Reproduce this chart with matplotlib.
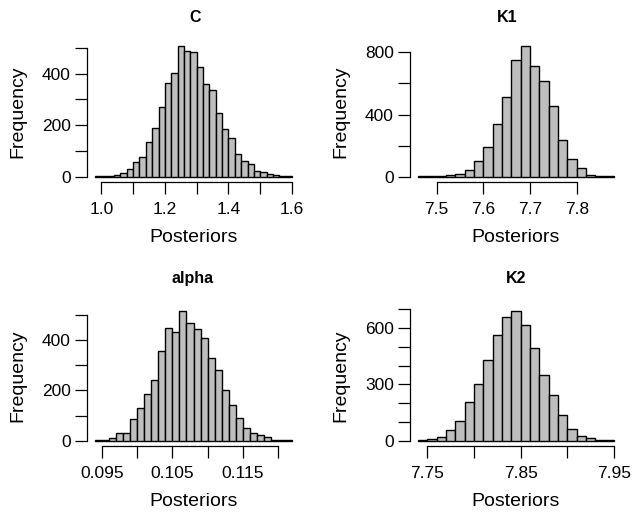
import matplotlib
matplotlib.use("Agg")
import matplotlib.pyplot as plt
import numpy as np
from matplotlib.ticker import FixedLocator, FixedFormatter

plt.rcParams['font.family'] = ['Liberation Sans', 'DejaVu Sans']

# histogram counts
names = ["C", "K1", "alpha", "K2"]

c_start, c_width = 0.98, 0.02
c_counts = [2, 2, 4, 8, 13, 29, 56, 78, 134, 190, 271, 365, 404, 506, 486, 482,
            425, 358, 335, 247, 184, 151, 90, 62, 48, 23, 19, 12, 5, 4, 2]

k1_start, k1_width = 7.46, 0.02
k1_counts = [2, 2, 4, 9, 15, 45, 99, 191, 338, 510, 748, 839, 710, 615, 454,
             234, 112, 56, 9, 6, 2]

alpha_start, alpha_width = 0.094, 0.001
alpha_counts = [3, 4, 13, 30, 33, 88, 131, 185, 243, 358, 449, 431, 515, 467,
                446, 409, 330, 280, 202, 141, 92, 50, 30, 24, 17, 5, 4, 3]

k2_start, k2_width = 7.74, 0.01
k2_counts = [4, 9, 18, 60, 103, 207, 301, 428, 561, 660, 690, 618, 492, 352,
             242, 135, 62, 25, 16, 5, 3]

# ticks and their labels (R drops some labels)
c_xticks = [1.0, 1.1, 1.2, 1.3, 1.4, 1.5, 1.6]
c_xlabels = ["1.0", "", "1.2", "", "1.4", "", "1.6"]
c_yticks = [0, 100, 200, 300, 400, 500]
c_ylabels = ["0", "", "200", "", "400", ""]

k1_xticks = [7.5, 7.6, 7.7, 7.8]
k1_xlabels = ["7.5", "7.6", "7.7", "7.8"]
k1_yticks = [0, 200, 400, 600, 800]
k1_ylabels = ["0", "", "400", "", "800"]

alpha_xticks = [0.095, 0.100, 0.105, 0.110, 0.115, 0.120]
alpha_xlabels = ["0.095", "", "0.105", "", "0.115", ""]
alpha_yticks = [0, 100, 200, 300, 400, 500]
alpha_ylabels = ["0", "", "200", "", "400", ""]

k2_xticks = [7.75, 7.80, 7.85, 7.90, 7.95]
k2_xlabels = ["7.75", "", "7.85", "", "7.95"]
k2_yticks = [0, 100, 200, 300, 400, 500, 600, 700]
k2_ylabels = ["0", "", "", "300", "", "", "600", ""]

panels = [
    (c_start, c_width, c_counts, c_xticks, c_xlabels, c_yticks, c_ylabels),
    (k1_start, k1_width, k1_counts, k1_xticks, k1_xlabels, k1_yticks, k1_ylabels),
    (alpha_start, alpha_width, alpha_counts, alpha_xticks, alpha_xlabels, alpha_yticks, alpha_ylabels),
    (k2_start, k2_width, k2_counts, k2_xticks, k2_xlabels, k2_yticks, k2_ylabels),
]

W, H = 636, 515
# axes boxes in pixels: left, top, right, bottom
boxes = [(87, 41, 300, 182), (410, 41, 622, 182),
         (87, 306, 300, 446), (410, 306, 622, 446)]
title_pos = [(195, 22), (507, 22), (193, 283), (516, 283)]

fig = plt.figure(figsize=(6.36, 5.15), dpi=100)

for i in range(4):
    start, width, counts, xt, xl, yt, yl = panels[i]
    l, t, r, b = boxes[i]
    ax = fig.add_axes([l / W, 1 - b / H, (r - l) / W, (b - t) / H])

    edges = start + width * np.arange(len(counts) + 1)
    mids = (edges[:-1] + edges[1:]) / 2
    ax.hist(mids, bins=edges, weights=counts, color="#BEBEBE",
            edgecolor="black", linewidth=1.0)

    span = edges[-1] - edges[0]
    ax.set_xlim(edges[0] - 0.04 * span, edges[-1] + 0.04 * span)
    top = max(counts)
    ax.set_ylim(-0.04 * top, 1.04 * top)

    ax.xaxis.set_major_locator(FixedLocator(xt))
    ax.xaxis.set_major_formatter(FixedFormatter(xl))
    ax.yaxis.set_major_locator(FixedLocator(yt))
    ax.yaxis.set_major_formatter(FixedFormatter(yl))

    for s in ["top", "right"]:
        ax.spines[s].set_visible(False)
    ax.spines["left"].set_bounds(yt[0], yt[-1])
    ax.spines["bottom"].set_bounds(xt[0], xt[-1])
    ax.spines["left"].set_linewidth(0.9)
    ax.spines["bottom"].set_linewidth(0.9)

    ax.tick_params(direction="out", length=8.6, width=0.9, labelsize=12.5)
    ax.tick_params(axis="x", pad=6)
    ax.tick_params(axis="y", pad=3)

    ax.set_xlabel("Posteriors", fontsize=14)
    ax.set_ylabel("Frequency", fontsize=14)
    ax.xaxis.label.set_va("center")
    ax.yaxis.label.set_va("center")
    ax.xaxis.set_label_coords(0.5, -56 / (b - t))
    ax.yaxis.set_label_coords(-69 / (r - l), 0.5)

    tx, ty = title_pos[i]
    fig.text(tx / W, 1 - ty / H, names[i], fontsize=11.5, fontweight="bold",
             ha="center", va="baseline")

fig.savefig("out.png", dpi=100)
